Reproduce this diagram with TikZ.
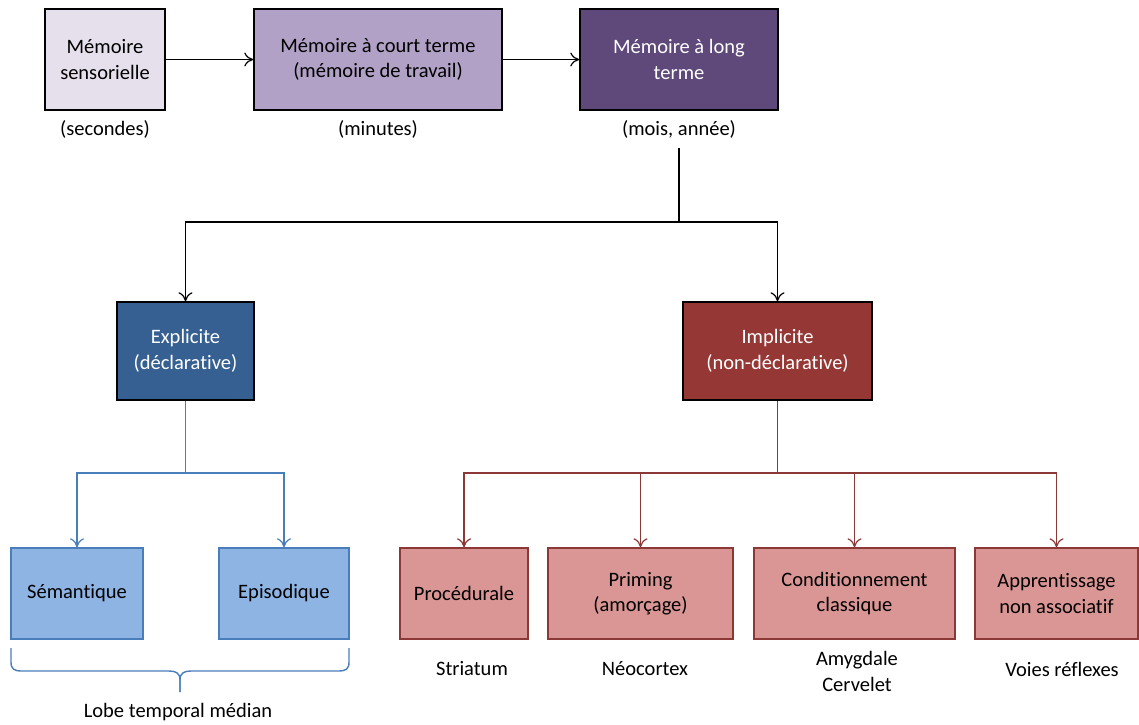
\documentclass[tikz,border=0pt]{standalone}
\usepackage{fontspec}
\setmainfont{Carlito}[Ligatures=NoCommon]
\usetikzlibrary{arrows.meta}
\definecolor{c1}{HTML}{E6E0EC}
\definecolor{c2}{HTML}{B2A1C7}
\definecolor{c3}{HTML}{5F497A}
\definecolor{cexp}{HTML}{376092}
\definecolor{cimp}{HTML}{953735}
\definecolor{cblue}{HTML}{8EB4E3}
\definecolor{cbluel}{HTML}{4A7EBB}
\definecolor{cred}{HTML}{D99694}
\definecolor{credl}{HTML}{8C3836}
\begin{document}
\begin{tikzpicture}[x=1pt,y=-1pt,
  every node/.style={font=\fontsize{20.5}{25.5}\selectfont, inner sep=0pt, align=center},
  box/.style={draw, line width=1.4pt},
  top/.style={box, minimum height=101pt},
  mid/.style={box, minimum height=98pt, text=white},
  bbox/.style={box, draw=cbluel, fill=cblue, minimum height=91pt},
  rbox/.style={box, draw=credl, fill=cred, minimum height=91pt},
  lbl/.style={},
  arr/.style={line width=1.2pt, -{To[length=9pt,width=14pt]}},
  ln/.style={line width=1.2pt}
]
\useasboundingbox (0,0) rectangle (1139,724);

\node[top, fill=c1, minimum width=120pt] (sens) at (105,59.5) {Mémoire\\sensorielle};
\node[top, fill=c2, minimum width=248pt] (court) at (378,59.5) {Mémoire à court terme\\(mémoire de travail)};
\node[top, fill=c3, text=white, minimum width=198pt] (long) at (679,59.5) {Mémoire à long\\terme};

\node[lbl] (sec) at (105,129) {(secondes)};
\node[lbl] (min) at (378,129) {(minutes)};
\node[lbl] (mois) at (679,129) {(mois, année)};

\node[mid, fill=cexp, minimum width=137pt] (expl) at (185.5,351) {Explicite\\(déclarative)};
\node[mid, fill=cimp, minimum width=189pt] (impl) at (777.5,351) {Implicite\\(non-déclarative)};

\node[bbox, minimum width=132pt] (sem) at (77,593.5) {Sémantique};
\node[bbox, minimum width=130pt] (epi) at (284,593.5) {Episodique};

\node[rbox, minimum width=128pt] (proc) at (464,593.5) {Procédurale};
\node[rbox, minimum width=185pt] (prim) at (640.5,593.5) {Priming\\(amorçage)};
\node[rbox, minimum width=201pt] (cond) at (854.5,593.5) {Conditionnement\\classique};
\node[rbox, minimum width=163pt] (appr) at (1056.5,593.5) {Apprentissage\\non associatif};

\node[lbl] (str) at (472,669) {Striatum};
\node[lbl] (neo) at (645,669) {Néocortex};
\node[lbl] (amy) at (857,671.5) {Amygdale\\Cervelet};
\node[lbl] (voi) at (1062,669) {Voies réflexes};
\node[lbl] (lobe) at (178,712) {Lobe temporal médian};

\draw[arr] (sens.east) -- (court.west);
\draw[arr] (court.east) -- (long.west);

\coordinate (j1) at (679,222);
\coordinate (s1) at (679,148);
\draw[ln] (s1) -- (j1);
\draw[arr] (j1) -| (expl.north);
\draw[arr] (j1) -| (impl.north);

\coordinate (j2) at (185.5,473);
\draw[ln, cbluel] (expl.south) -- (j2);
\draw[arr, cbluel] (j2) -| (sem.north);
\draw[arr, cbluel] (j2) -| (epi.north);

\coordinate (j3) at (777.5,473);
\draw[ln, credl] (impl.south) -- (j3);
\draw[arr, credl] (j3) -| (proc.north);
\draw[arr, credl] (j3) -| (prim.north);
\draw[arr, credl] (j3) -| (cond.north);
\draw[arr, credl] (j3) -| (appr.north);

\draw[cbluel, line width=1.4pt] (11,648) -- (11,662) .. controls (11,669) and (14,671) .. (22,671) -- (169,671) .. controls (176,671) and (180,673) .. (180,680) -- (180,692);
\draw[cbluel, line width=1.4pt] (180,692) -- (180,680) .. controls (180,673) and (184,671) .. (191,671) -- (338,671) .. controls (346,671) and (349,669) .. (349,662) -- (349,648);
\end{tikzpicture}
\end{document}
